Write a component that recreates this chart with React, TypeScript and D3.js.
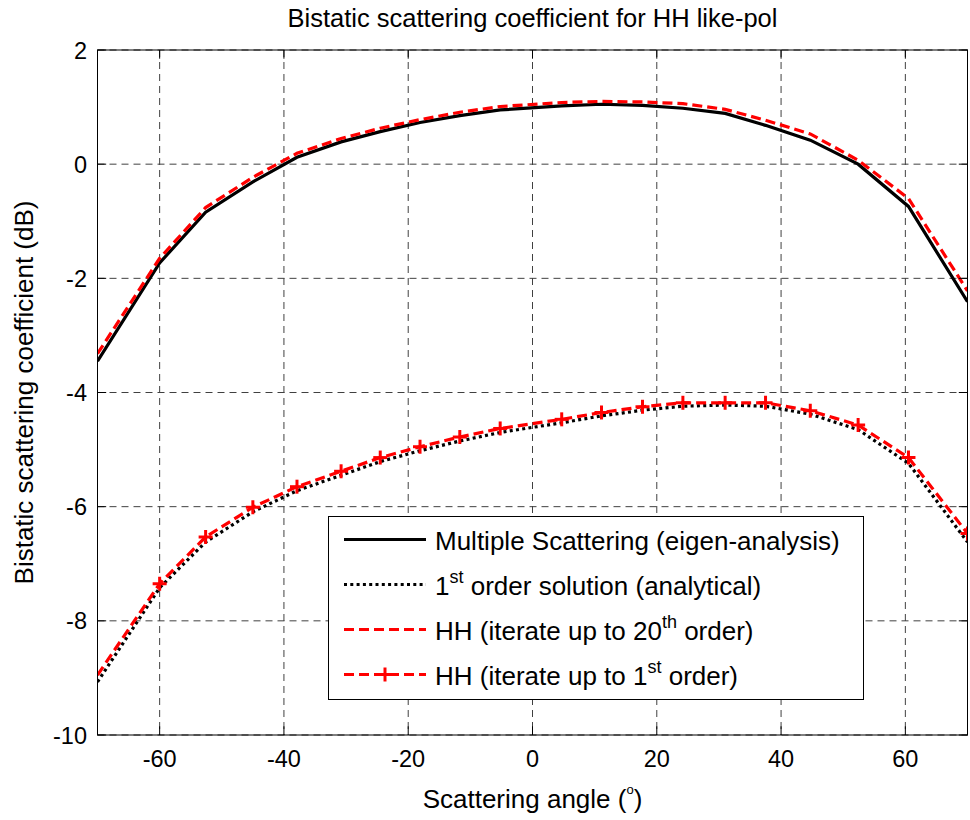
import React from "react";
import * as d3 from "d3";

const angles = [-70, -60, -52.6, -45, -37.9, -30.8, -24.5, -18.1, -11.7, -5.2, 4.7, 11.1, 17.7, 24.2, 31.0, 37.5, 44.7, 52.4, 60.5, 70];
const multipleScattering = [-3.45, -1.73, -0.84, -0.31, 0.12, 0.39, 0.57, 0.73, 0.85, 0.95, 1.02, 1.05, 1.03, 0.98, 0.89, 0.68, 0.42, 0.0, -0.74, -2.41];
const firstOrderAnalytical = [-9.07, -7.42, -6.62, -6.09, -5.72, -5.45, -5.21, -5.02, -4.85, -4.7, -4.53, -4.41, -4.31, -4.24, -4.22, -4.24, -4.38, -4.65, -5.24, -6.62];
const iterate20 = [-3.32, -1.65, -0.76, -0.23, 0.19, 0.45, 0.63, 0.78, 0.91, 1.01, 1.08, 1.1, 1.09, 1.06, 0.96, 0.77, 0.53, 0.07, -0.6, -2.22];
const iterate1 = [-8.95, -7.35, -6.53, -6.01, -5.65, -5.38, -5.14, -4.95, -4.78, -4.63, -4.47, -4.35, -4.25, -4.18, -4.18, -4.18, -4.32, -4.57, -5.14, -6.47];

const xTicks = [-60, -40, -20, 0, 20, 40, 60];
const yTicks = [-10, -8, -6, -4, -2, 0, 2];

const titleText = "Bistatic scattering coefficient for HH like-pol";
const xLabelText = "Scattering angle (";
const yLabelText = "Bistatic scattering coefficient (dB)";

const FONT = "'Liberation Sans', Arial, Helvetica, sans-serif";

export default function App() {
  const W = 970, H = 820;
  const L = 97.5, R = 967.5, T = 50, B = 735;
  const x = d3.scaleLinear().domain([-70, 70]).range([L, R]);
  const y = d3.scaleLinear().domain([-10, 2]).range([B, T]);
  const line = d3.line<[number, number]>().x(d => x(d[0])).y(d => y(d[1]));
  const pts = (vals: number[]) => angles.map((a, i) => [a, vals[i]] as [number, number]);
  const tickLen = 8.7;
  const gridColor = "#404040";

  const plus = (cx: number, cy: number, key: any) => (
    <g key={key} stroke="#ff0000" strokeWidth={3}>
      <line x1={cx - 7} x2={cx + 7} y1={cy} y2={cy} />
      <line x1={cx} x2={cx} y1={cy - 7} y2={cy + 7} />
    </g>
  );

  const legX = 328.5, legY = 516.5, legW = 535, legH = 183;
  const rows = [549.5, 594.5, 639.5, 684.5];
  const sx1 = 344, sx2 = 426, tx = 435;

  return (
    <svg width={W} height={H} style={{ position: "absolute", left: 0, top: 0, background: "#fff" }} fontFamily={FONT}>
      <defs>
        <clipPath id="plotclip">
          <rect x={L} y={T} width={R - L} height={B - T} />
        </clipPath>
      </defs>
      <rect x={0} y={0} width={W} height={H} fill="#fff" />
      {/* grid */}
      <g stroke={gridColor} strokeWidth={1} strokeDasharray="7,5">
        {xTicks.map(t => <line key={"gx" + t} x1={x(t)} x2={x(t)} y1={T} y2={B} />)}
        {yTicks.map(t => <line key={"gy" + t} x1={L} x2={R} y1={y(t)} y2={y(t)} />)}
      </g>
      {/* data */}
      <g clipPath="url(#plotclip)" fill="none">
        <path d={line(pts(multipleScattering)) || ""} stroke="#000" strokeWidth={3.2} />
        <path d={line(pts(firstOrderAnalytical)) || ""} stroke="#000" strokeWidth={3.2} strokeDasharray="3,3.3" />
        <path d={line(pts(iterate20)) || ""} stroke="#ff0000" strokeWidth={3.2} strokeDasharray="10,5" />
        <path d={line(pts(iterate1)) || ""} stroke="#ff0000" strokeWidth={3.2} strokeDasharray="10,5" />
        {angles.map((a, i) => (a > -70 ? plus(x(a), y(iterate1[i]), "m" + i) : null))}
      </g>
      {/* box and ticks */}
      <rect x={L} y={T} width={R - L} height={B - T} fill="none" stroke="#000" strokeWidth={1} />
      <g stroke="#000" strokeWidth={1}>
        {xTicks.map(t => (
          <g key={"tx" + t}>
            <line x1={x(t)} x2={x(t)} y1={B} y2={B - tickLen} />
            <line x1={x(t)} x2={x(t)} y1={T} y2={T + tickLen} />
          </g>
        ))}
        {yTicks.map(t => (
          <g key={"ty" + t}>
            <line x1={L} x2={L + tickLen} y1={y(t)} y2={y(t)} />
            <line x1={R} x2={R - tickLen} y1={y(t)} y2={y(t)} />
          </g>
        ))}
      </g>
      {/* tick labels */}
      <g fontSize={23.5} fill="#000">
        {xTicks.map(t => (
          <text key={"lx" + t} x={x(t)} y={767} textAnchor="middle">{t}</text>
        ))}
        {yTicks.map(t => (
          <text key={"ly" + t} x={87} y={y(t) + 8.5} textAnchor="end">{t}</text>
        ))}
      </g>
      {/* labels */}
      <text x={(L + R) / 2} y={27} textAnchor="middle" fontSize={25.5}>{titleText}</text>
      <text x={(L + R) / 2} y={808} textAnchor="middle" fontSize={26}>
        {xLabelText}
        <tspan fontSize={13} dy={-14}>o</tspan>
        <tspan dy={14}>)</tspan>
      </text>
      <text transform={`translate(33,${(T + B) / 2}) rotate(-90)`} textAnchor="middle" fontSize={26}>{yLabelText}</text>
      {/* legend */}
      <rect x={legX} y={legY} width={legW} height={legH} fill="#fff" stroke="#000" strokeWidth={1} />
      <g fill="none" strokeWidth={3.2}>
        <line x1={sx1} x2={sx2} y1={rows[0] - 10} y2={rows[0] - 10} stroke="#000" />
        <line x1={sx1} x2={sx2} y1={rows[1] - 10} y2={rows[1] - 10} stroke="#000" strokeDasharray="3,3.3" />
        <line x1={sx1} x2={sx2} y1={rows[2] - 10} y2={rows[2] - 10} stroke="#ff0000" strokeDasharray="10,5" />
        <line x1={sx1} x2={sx2} y1={rows[3] - 10} y2={rows[3] - 10} stroke="#ff0000" strokeDasharray="10,5" />
      </g>
      {plus((sx1 + sx2) / 2, rows[3] - 10, "legm")}
      <g fontSize={26} fill="#000">
        <text x={tx} y={rows[0]}>Multiple Scattering (eigen-analysis)</text>
        <text x={tx} y={rows[1]}>1<tspan fontSize={18} dy={-12}>st</tspan><tspan dy={12}> order solution (analytical)</tspan></text>
        <text x={tx} y={rows[2]}>HH (iterate up to 20<tspan fontSize={18} dy={-12}>th</tspan><tspan dy={12}> order)</tspan></text>
        <text x={tx} y={rows[3]}>HH (iterate up to 1<tspan fontSize={18} dy={-12}>st</tspan><tspan dy={12}> order)</tspan></text>
      </g>
    </svg>
  );
}
